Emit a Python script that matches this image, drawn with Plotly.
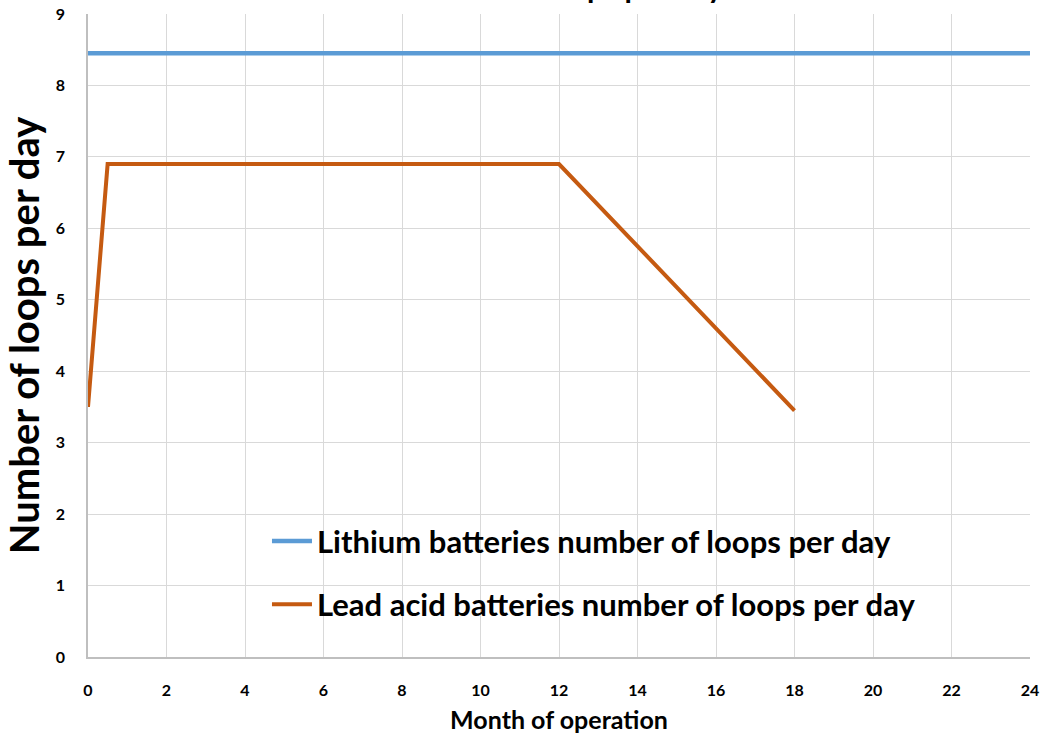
import plotly.graph_objects as go

months_li = [0, 24]
loops_li = [8.45, 8.45]
months_pb = [0, 0.5, 12, 18]
loops_pb = [3.5, 6.9, 6.9, 3.45]
name_li = "Lithium batteries number of loops per day"
name_pb = "Lead acid batteries number of loops per day"
title_text = "Number of loops per day"
x_ticks = list(range(0, 25, 2))
y_ticks = list(range(0, 10))

FONT = "Lato"

fig = go.Figure()
fig.add_trace(go.Scatter(x=months_li, y=loops_li, mode="lines", name="<b>" + name_li + "</b>",
                         line=dict(color="#5B9BD5", width=4.5), legendgroup="a"))
fig.add_trace(go.Scatter(x=months_pb, y=loops_pb, mode="lines", name="<b>" + name_pb + "</b>",
                         line=dict(color="#C55A11", width=4), legendgroup="b"))

fig.add_annotation(text="<b>" + title_text + "</b>", xref="paper", yref="paper",
                   x=0.5, y=1.0, xanchor="center", yanchor="bottom", yshift=8,
                   showarrow=False, font=dict(family=FONT, size=30, color="black"))

fig.update_layout(
    width=1062, height=739,
    margin=dict(l=88, r=32, t=14, b=82, autoexpand=False),
    paper_bgcolor="white", plot_bgcolor="white",
    font=dict(family=FONT, color="black"),
    showlegend=True,
    legend=dict(x=0.19, y=0.222, xanchor="left", yanchor="top",
                bgcolor="rgba(0,0,0,0)", tracegroupgap=20,
                font=dict(family=FONT, size=31, color="black"),
                itemwidth=40),
    xaxis=dict(range=[0, 24], tickvals=x_ticks, ticktext=[f"<b>{v}</b>" for v in x_ticks],
               showgrid=True, gridcolor="#D9D9D9", gridwidth=1,
               showline=True, linecolor="#BFBFBF", linewidth=1.5,
               zeroline=False, ticks="", ticklabelstandoff=18, automargin=False,
               tickfont=dict(size=16, family=FONT),
               title=dict(text="<b>Month of operation</b>", font=dict(size=25, family=FONT), standoff=14)),
    yaxis=dict(range=[0, 9], tickvals=y_ticks, ticktext=[f"<b>{v}</b>" for v in y_ticks],
               showgrid=True, gridcolor="#D9D9D9", gridwidth=1,
               showline=True, linecolor="#BFBFBF", linewidth=1.5,
               zeroline=False, ticks="", ticklabelstandoff=18, automargin=False,
               tickfont=dict(size=16, family=FONT),
               title=dict(text="<b>Number of loops per day</b>", font=dict(size=40, family=FONT), standoff=12)),
)

fig.write_html("out.html")
